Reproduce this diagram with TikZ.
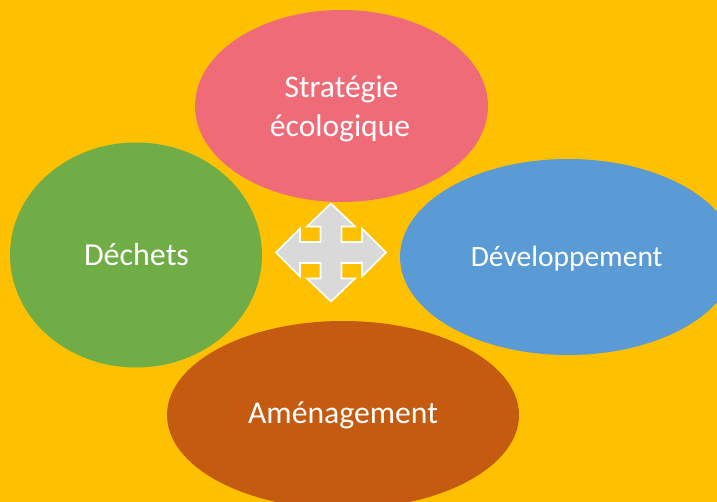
\documentclass[tikz,border=0pt]{standalone}
\usepackage{fontspec}
\setmainfont{Carlito}
\usetikzlibrary{shapes.geometric}
\definecolor{bgyellow}{HTML}{FFC000}
\definecolor{cpink}{HTML}{F06B78}
\definecolor{cgreen}{HTML}{70AD47}
\definecolor{cblue}{HTML}{5B9BD5}
\definecolor{cbrown}{HTML}{C55A11}
\definecolor{cgray}{HTML}{D9D9D9}
\tikzset{
  blob/.style={ellipse, draw=none, inner sep=0pt},
  lbl/.style={anchor=base, inner sep=0pt, text=white},
  quad/.style={fill=cgray, draw=white, line width=1.6pt, line join=miter}
}
\begin{document}
\begin{tikzpicture}[x=1pt,y=-1pt]
\fill[bgyellow] (0,0) rectangle (717,502);
\useasboundingbox (0,0) rectangle (717,502);
\node[blob, fill=cpink, minimum width=293pt, minimum height=192pt] (strat) at (341.5,106) {};
\node[blob, fill=cgreen, minimum width=252pt, minimum height=225pt] (dech) at (136,255) {};
\node[blob, fill=cblue, minimum width=336pt, minimum height=196pt] (dev) at (568,257) {};
\node[blob, fill=cbrown, minimum width=352pt, minimum height=188pt] (amen) at (343,415) {};
\node[lbl, font=\fontsize{31.5}{38}\selectfont] (stratA) at (341.5,98) {Stratégie};
\node[lbl, font=\fontsize{31.5}{38}\selectfont] (stratB) at (340,136.5) {écologique};
\node[lbl, font=\fontsize{32}{38}\selectfont] (dechT) at (136.5,266) {Déchets};
\node[lbl, font=\fontsize{29.5}{36}\selectfont] (devT) at (566.7,266.5) {Développement};
\node[lbl, font=\fontsize{31.7}{38}\selectfont] (amenT) at (343,423) {Aménagement};
\coordinate (c) at (331,252.5);
\draw[quad] (c) ++(0,-49) -- ++(24,23) -- ++(-13.5,0) -- ++(0,15.5) -- ++(20.5,0) -- ++(0,-13.5)
  -- ++(24,24) -- ++(-24,24) -- ++(0,-13.5) -- ++(-20.5,0) -- ++(0,15.5) -- ++(13.5,0)
  -- ++(-24,23) -- ++(-24,-23) -- ++(13.5,0) -- ++(0,-15.5) -- ++(-20.5,0) -- ++(0,13.5)
  -- ++(-24,-24) -- ++(24,-24) -- ++(0,13.5) -- ++(20.5,0) -- ++(0,-15.5) -- ++(-13.5,0) -- cycle;
\end{tikzpicture}
\end{document}
